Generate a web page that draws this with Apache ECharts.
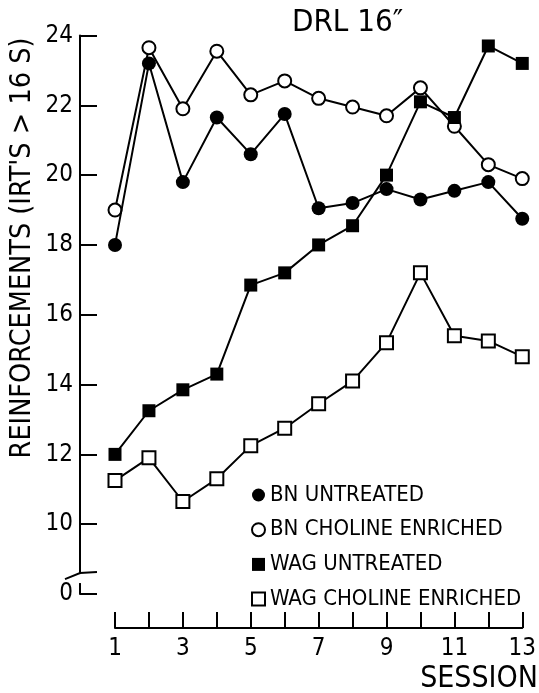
<!DOCTYPE html>
<html>
<head>
<meta charset="utf-8">
<script src="https://cdn.jsdelivr.net/npm/echarts@6/dist/echarts.min.js"></script>
<style>
html,body{margin:0;padding:0;background:#fff;}
#c{width:539px;height:693px;}
</style>
</head>
<body>
<div id="c"></div>
<script>
const sessions = [1,2,3,4,5,6,7,8,9,10,11,12,13];
const bnUntreated = [18.0,23.2,19.8,21.65,20.6,21.75,19.05,19.2,19.6,19.3,19.55,19.8,18.75];
const bnCholine = [19.0,23.65,21.9,23.55,22.3,22.7,22.2,21.95,21.7,22.5,21.4,20.3,19.9];
const wagUntreated = [12.0,13.25,13.85,14.3,16.85,17.2,18.0,18.55,20.0,22.1,21.65,23.7,23.2];
const wagCholine = [11.25,11.9,10.65,11.3,12.25,12.75,13.45,14.1,15.2,17.2,15.4,15.25,14.8];
const seriesNames = ['BN UNTREATED','BN CHOLINE ENRICHED','WAG UNTREATED','WAG CHOLINE ENRICHED'];
const yMin = 8, yMax = 24, yStep = 2;
const yZeroLabel = '0';   // axis is broken: lowest tick stands for 0
const breakValue = 8.6;

const FONT = "'Liberation Sans Narrow','DejaVu Sans Condensed','Liberation Sans',sans-serif";
const chart = echarts.init(document.getElementById('c'), null, {renderer:'canvas'});

function pts(arr){ return sessions.map((s,i)=>[s,arr[i]]); }
function mkSeries(name, data, symbol, filled, size){
  return {
    name, type:'line', data:pts(data), symbol, symbolSize:size,
    lineStyle:{color:'#000', width:2},
    itemStyle: filled ? {color:'#000', borderColor:'#000', borderWidth:0}
                      : {color:'#fff', borderColor:'#000', borderWidth:2},
    emphasis:{disabled:true}, animation:false, z: filled?3:2
  };
}

chart.setOption({
  animation:false,
  textStyle:{fontFamily:FONT, color:'#000'},
  grid:{left:115, right:10, top:35.5, bottom:99, containLabel:false},
  xAxis:{
    type:'value', min:1, max:13, interval:1, offset:34,
    axisLine:{lineStyle:{color:'#000', width:2}},
    axisTick:{inside:true, length:16, lineStyle:{color:'#000', width:2}},
    splitLine:{show:false},
    axisLabel:{fontFamily:FONT, fontSize:24, color:'#000', margin:9,
      formatter:v => (v % 2 === 1 ? String(v) : '')}
  },
  yAxis:{
    type:'value', min:yMin, max:yMax, interval:yStep, offset:35,
    axisLine:{show:true, lineStyle:{color:'#000', width:2}},
    axisTick:{show:true, inside:true, length:17, lineStyle:{color:'#000', width:2}},
    splitLine:{show:false},
    axisLabel:{fontFamily:FONT, fontSize:24, color:'#000', margin:7,
      formatter:v => (v === yMin ? yZeroLabel : String(v))}
  },
  legend:{
    orient:'vertical', left:246, top:479, itemGap:12.7,
    itemWidth:13, itemHeight:13, itemTextGap:9,
    textStyle:{fontFamily:FONT, fontSize:22, color:'#000', lineHeight:22},
    data:[
      {name:seriesNames[0], icon:'circle'},
      {name:seriesNames[1], icon:'circle'},
      {name:seriesNames[2], icon:'rect'},
      {name:seriesNames[3], icon:'rect'}
    ]
  },
  series:[
    mkSeries(seriesNames[0], bnUntreated, 'circle', true, 14),
    mkSeries(seriesNames[1], bnCholine, 'circle', false, 13),
    mkSeries(seriesNames[2], wagUntreated, 'rect', true, 13),
    mkSeries(seriesNames[3], wagCholine, 'rect', false, 13)
  ]
});

// decorations: titles and the axis break mark
const ax = chart.convertToPixel({gridIndex:0}, [1, breakValue])[0] - 35;
const yb = chart.convertToPixel({yAxisIndex:0}, breakValue);
chart.setOption({
  graphic:[
    {type:'text', x:292, y:23, style:{text:'DRL 16\u2033', font:"31px "+FONT, fill:'#000', textAlign:'left', textVerticalAlign:'middle'}},
    {type:'text', x:538, y:679, style:{text:'SESSION', font:"30px "+FONT, fill:'#000', textAlign:'right', textVerticalAlign:'middle'}},
    {type:'text', x:23, y:248, rotation:Math.PI/2, style:{text:"REINFORCEMENTS (IRT'S > 16 S)", font:"28.5px "+FONT, fill:'#000', textAlign:'center', textVerticalAlign:'middle'}},
    {type:'rect', shape:{x:ax-3, y:yb+1, width:6, height:9}, style:{fill:'#fff'}, z:100},
    {type:'polyline', shape:{points:[[ax-15, yb+6],[ax, yb],[ax+17, yb-1]]}, style:{stroke:'#000', lineWidth:2, fill:null}, z:101}
  ]
});
</script>
</body>
</html>
